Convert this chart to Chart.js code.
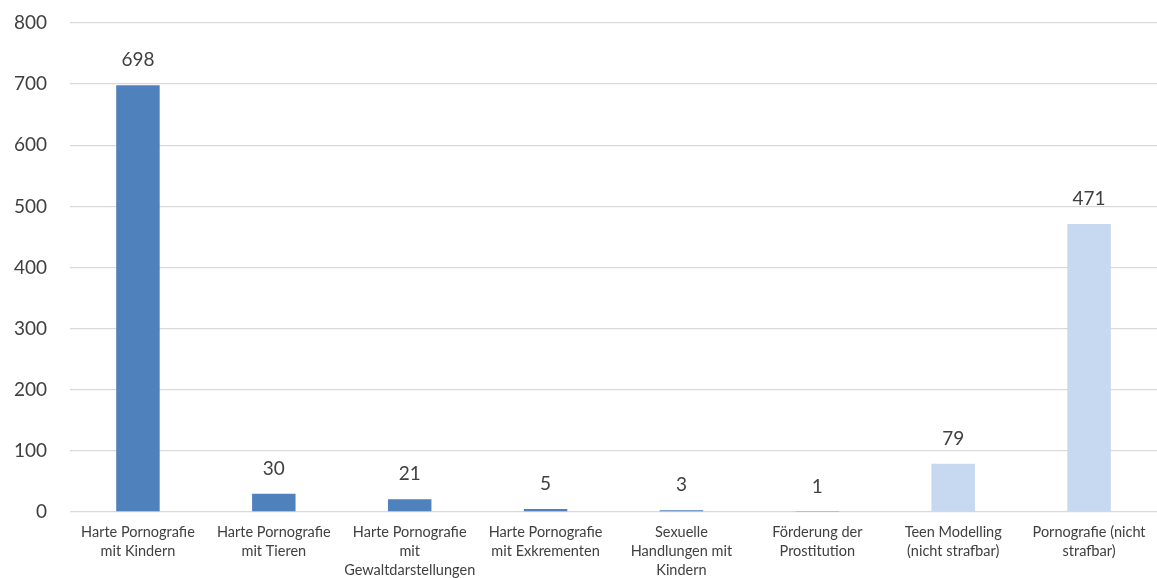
<!DOCTYPE html>
<html>
<head>
<meta charset="utf-8">
<script src="https://cdn.jsdelivr.net/npm/chart.js@4/dist/chart.umd.min.js"></script>
<style>
  html, body { margin: 0; padding: 0; background: #ffffff; }
  #wrap { width: 1157px; height: 578px; }
</style>
</head>
<body>
<div id="wrap"><canvas id="c" width="1157" height="578"></canvas></div>
<script>
const categories = [
  ["Harte Pornografie", "mit Kindern"],
  ["Harte Pornografie", "mit Tieren"],
  ["Harte Pornografie", "mit", "Gewaltdarstellungen"],
  ["Harte Pornografie", "mit Exkrementen"],
  ["Sexuelle", "Handlungen mit", "Kindern"],
  ["Förderung der", "Prostitution"],
  ["Teen Modelling", "(nicht strafbar)"],
  ["Pornografie (nicht", "strafbar)"]
];
const counts = [698, 30, 21, 5, 3, 1, 79, 471];
const strafbar = [true, true, true, true, true, true, false, false];
const yTicks = [0, 100, 200, 300, 400, 500, 600, 700, 800];

const FONT = "Lato, 'Open Sans', sans-serif";

// Writes each bar's value above it
const valueLabels = {
  id: 'valueLabels',
  afterDatasetsDraw(chart) {
    const ctx = chart.ctx;
    const meta = chart.getDatasetMeta(0);
    ctx.save();
    ctx.font = "19px " + FONT;
    ctx.fillStyle = "#404040";
    ctx.textAlign = "center";
    ctx.textBaseline = "middle";
    meta.data.forEach((bar, i) => {
      ctx.fillText(String(counts[i]), bar.x, bar.y - 25);
    });
    ctx.restore();
  }
};

new Chart(document.getElementById('c'), {
  type: 'bar',
  data: {
    labels: categories,
    datasets: [{
      data: counts,
      backgroundColor: strafbar.map(s => s ? '#4F81BD' : '#C6D9F1'),
      borderWidth: 0,
      categoryPercentage: 1.0,
      barPercentage: 0.32
    }]
  },
  options: {
    responsive: false,
    animation: false,
    layout: { padding: { top: 23, right: 0, left: 0, bottom: 0 } },
    plugins: { legend: { display: false }, tooltip: { enabled: false } },
    scales: {
      x: {
        grid: { display: false, drawTicks: false },
        border: { display: false },
        ticks: {
          color: '#404040',
          font: { family: FONT, size: 14.5, lineHeight: 1.3 },
          padding: 11,
          maxRotation: 0,
          autoSkip: false
        },
        afterFit(s) { s.height = 66; s.paddingLeft = 0; s.paddingRight = 0; }
      },
      y: {
        min: 0,
        max: 800,
        afterBuildTicks(s) { s.ticks = yTicks.map(v => ({ value: v })); },
        grid: { color: '#D9D9D9', lineWidth: 1.3, drawTicks: false },
        border: { display: false },
        ticks: {
          color: '#404040',
          font: { family: FONT, size: 19 },
          padding: 23
        },
        afterFit(s) { s.width = 70; s.paddingTop = 0; s.paddingBottom = 0; }
      }
    }
  },
  plugins: [valueLabels]
});
</script>
</body>
</html>
